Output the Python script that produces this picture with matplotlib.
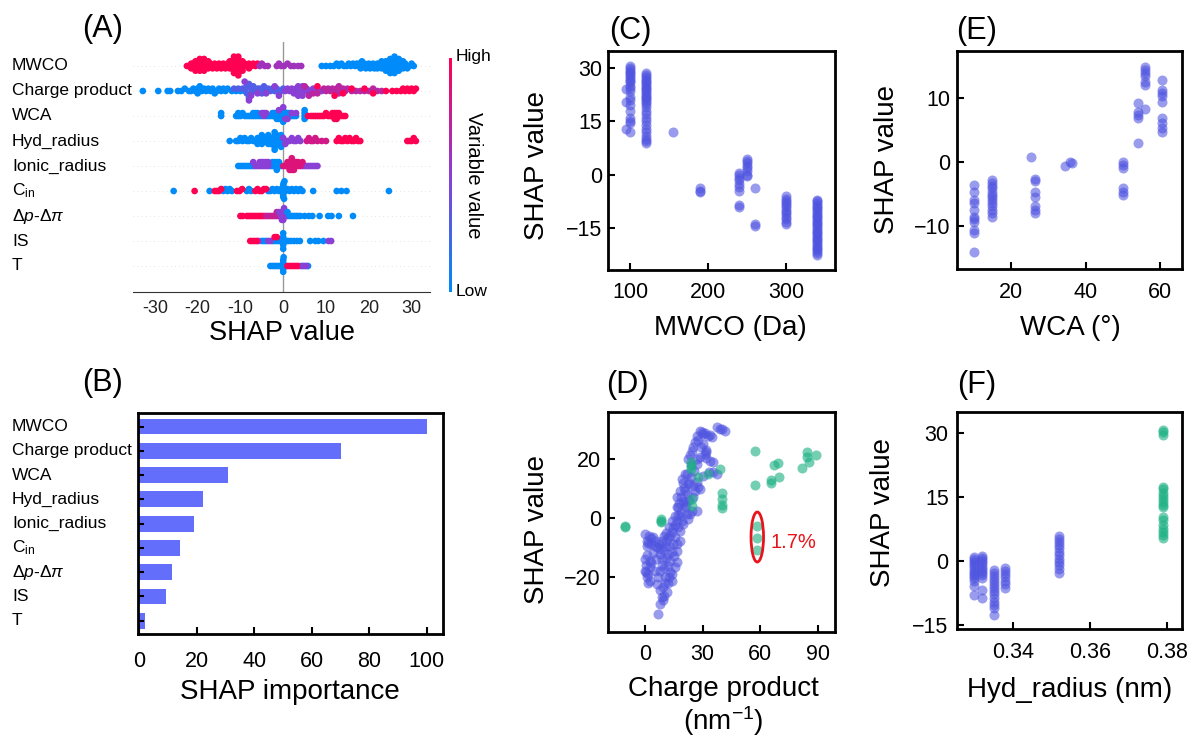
import numpy as np
import matplotlib
matplotlib.use('Agg')
import matplotlib.pyplot as plt
from matplotlib.colors import LinearSegmentedColormap
from matplotlib.patches import Ellipse
from matplotlib.transforms import blended_transform_factory

plt.rcParams['font.family'] = ['Liberation Sans', 'DejaVu Sans']
plt.rcParams['mathtext.fontset'] = 'custom'
plt.rcParams['mathtext.rm'] = 'Liberation Sans'
plt.rcParams['mathtext.it'] = 'Liberation Sans:italic'

W, H = 1193, 737

features = ['MWCO', 'Charge product', 'WCA', 'Hyd_radius', 'Ionic_radius',
            'C$_{\\rm in}$', '\u0394$p$-\u0394$\\pi$', 'IS', 'T']

# (A) beeswarm: SHAP values grouped by feature-value level (0 = low, 1 = high)
mwco = {
    1.0: [-22.5, -22, -21.5, -21.5, -21, -21, -20.5, -20.5, -20.5, -20, -20, -20, -19.5, -19.5, -19.5,
          -19, -19, -19, -18.5, -18.5, -18.5, -18, -18, -17.5, -17.5, -17, -17, -16.5, -16, -16,
          -15.5, -15, -15, -14.5, -14, -14, -13.5, -13, -13, -12.5, -12.5, -12, -12, -12, -12,
          -11.5, -11.5, -11.5, -11.5, -11, -11, -11, -11, -11, -10.5, -10.5, -10.5, -10.5,
          -10, -10, -10, -9.5, -9.5, -9, -9, -8.5, -8, -8, -7.5, -7, -6.5, -6],
    0.6: [-5.5, -5, -4.3, -3.6, -1.5, -1, -0.5, 0.2, 1, 1.8, 2.5, 3.5, 4.2],
    0.0: [9, 10, 11, 11.8, 12.5, 13, 13.6, 14.2, 14.8, 15.3, 15.8, 16.3, 16.8, 17.2, 17.5, 17.8,
          18.1, 18.4, 18.7, 19, 19.3, 19.6, 20, 20.3, 20.6, 21, 21.3, 21.6, 22, 22, 22.5, 22.5,
          23, 23, 23.5, 23.5, 24, 24, 24, 24.5, 24.5, 24.5, 25, 25, 25, 25, 25.5, 25.5, 25.5, 25.5,
          26, 26, 26, 26, 26.5, 26.5, 26.5, 27, 27, 27, 27.5, 27.5, 28, 28, 28.5, 28.5, 29, 29.5,
          30, 30.5],
}
charge = {
    0.0: [-32.8, -29.2, -27, -26.4, -24.6, -23.8, -23, -22, -21.5, -21, -20.5, -20, -20, -19.5,
          -19, -18.5, -18, -17.5, -17, -16.5, -16, -15.5, -15, -14.5, -14, -13.5, -13, -12, -11,
          -10, -9, -7, -5],
    0.3: [-11.5, -10.5, -9.5, -9, -8.5, -8.5, -8, -8, -8, -7.5, -7.5, -7, -6.5, -6, -5.5, -5,
          -4.5, -4, -3.5, -3, -2.5, -2, -1.5, -1, -0.5, 0],
    0.5: [-9, -8, -7.5, -6, -4, -2, -1, 0.5, 1, 1.5, 2, 2.5, 3, 3, 3.5, 3.5, 3.5, 4, 4, 4, 4.5,
          4.5, 5, 5.5, 6, 6.5, 7, 7.5, 8, 9],
    0.7: [5, 6, 7, 8, 9.5, 10, 10.5, 11, 11.5, 12, 12.5, 13, 13, 13.5, 14, 14.5, 15, 16, 17, 18,
          19, 20, 21, 22, 23],
    1.0: [8, 12, 14, 16, 19, 21, 24, 25.5, 26.5, 27.5, 28, 28.5, 29, 29.5, 30, 30.5, 31],
}
wca = {
    0.0: [-14.5, -14.5, -11, -10.5, -10.5, -10, -9.5, -9, -8.5, -8, -7.5, -7, -7, -6.5, -6.5, -6,
          -6, -5.5, -5, -4, -3.5, -3, -2.5, -2.5, -2, -2, -1.5, -1.5, -1.5, -1, -1, -1, -0.5, -0.5,
          0, 0, 0, 0.5, 0.5, 1, 1, 1.5, 1.5, 2, 2.5, 3, 5, 5, 5, 5],
    0.5: [-5, -4.5, -4.5, -4, -1, 0, 0.5, 1, 2, 3],
    1.0: [5.8, 6.5, 7, 7.5, 8, 8.5, 9, 9.5, 10, 10.5, 11, 11.5, 11.5, 12, 12, 12, 12.5, 12.5, 12.5,
          13, 13, 13.5, 14, 14.5],
}
hyd = {
    0.0: [-12.5, -11, -10.5, -10, -9.5, -9, -8.5, -8, -7.5, -7, -6.5, -6, -6, -5.5, -5.5, -5, -5,
          -4.5, -4.5, -4, -4, -3.5, -3.5, -3, -3, -3, -2.5, -2.5, -2.5, -2, -2, -2, -2, -1.5, -1.5,
          -1.5, -1.5, -1, -1, -1, -0.5, -0.5, 0],
    0.5: [0, 0.5, 1, 1.5, 2, 2.5, 3, 3.5, 4],
    0.8: [5.5, 6, 6.5, 7, 7.5, 8, 9, 10],
    1.0: [12.5, 13, 13.5, 14, 14.5, 15, 15.5, 16, 16.5, 17, 17.5, 18, 29, 29.5, 30, 30.5, 31],
}
ionic = {
    0.0: [-10.5, -10, -9.5, -9, -8.5, -8, -7.5, -7, -3, -2.5, -2.5, -2, -2, -1.5, -1.5, -1.5, -1,
          -1, -0.5],
    0.5: [-7, -6.5, -6, -5.5, -5.5, -5, -5, -4.5, -4.5, -4, -4, -3.5, -3.5, 4.5, 5, 5.5, 6, 6.5,
          7, 7.5, 8],
    0.85: [0, 0.5, 1, 1, 1.5, 1.5, 1.5, 2, 2, 2, 2, 2.5, 2.5, 2.5, 3, 3, 3.5, 3.5, 4, 4.5],
}
cin = {
    0.0: [-25.6, -17.2, -14, -13.5, -13, -12.5, -12, -8.5, -8, -7.5, -3.5, -3, -2.5, -2, -1.5, -1,
          -0.5, -0.3, -0.1, 0, 0, 0, 0, 0, 0.1, 0.2, 0.3, 0.5, 1, 1.5, 2, 2.5, 3, 3.5, 4, 4.5, 7,
          12.5, 13.6, 14.8, 24.7],
    1.0: [-20.7, -16, -15.5, -15, -14.5, -10.8, -10.2, -9.6, -6.5, -6, -5.5, -5, -4.5, -4],
}
dp = {
    1.0: [-10, -9.5, -8.5, -8, -7.5, -7, -6.5, -6, -5.5, -5, -4.5],
    0.75: [-4, -3.5, -3, -2.5, -2, -1.5, -1.5, -1],
    0.5: [-1, -0.5, -0.5, -0.3, 0, 0, 0, 0.2, 0.5, 0.5, 1],
    0.0: [1, 1.5, 2, 2.5, 3, 3.5, 4, 5, 6, 6.8, 8.5, 10.5, 11.3, 13, 16.3],
}
ionic_strength = {
    0.0: [-5, -4.5, -4, -2.5, -2, -1.5, -1, -0.5, -0.3, 0, 0, 0, 0, 0.2, 0.4, 0.8, 1.2, 1.8, 2.5,
          3.2, 3.9, 6.3, 7.5, 8.2, 9.4],
    0.5: [-5.8, -3.5, -3, 10.6, 11.2],
    1.0: [-7.7, -7.2, -6.7, -6.2, -1.5, -2],
}
temp = {
    0.0: [-3, -2.5, -2, -1.5, -1, -0.5, -0.3, -0.1, 0, 0, 0, 0, 0, 0.1, 0.3, 0.5, 4.2, 5, 5.8],
    1.0: [1, 1.5, 2, 2.5, 3, 3.5],
    0.5: [4.6, 5.4],
}
rows = [mwco, charge, wca, hyd, ionic, cin, dp, ionic_strength, temp]

# (B) mean |SHAP| importance
importance = [100, 70.1, 30.8, 22.1, 19.1, 14.2, 11.3, 9.2, 2.0]

# (C) dependence on MWCO
c_cols = {
    95: [24, 20.5, 13],
    100: [30.5, 30, 29.5, 29, 28.5, 28, 27.5, 27, 26.5, 26, 25, 24.5, 23.5, 22, 21, 19.5, 18, 16,
          15, 14.5, 12],
    120: [28.5, 28, 27.5, 27, 26.5, 26, 25.5, 25, 24.5, 24, 23.5, 23, 22.5, 22, 21.5, 21, 20.5,
          20, 19, 18, 17, 16, 15, 14, 13, 12, 11, 10, 9.5, 9],
    155: [12],
    190: [-3.8, -4.5, -4.8],
    240: [0.5, 0, -0.8, -1.5, -2.5, -3.5, -4.5, -8.5, -9.2],
    250: [4.4, 3.8, 3.2, 2.5, 1.8, 1, 0, -0.5],
    260: [-3.8, -13.8, -14.5],
    300: [-6, -6.8, -7.5, -8, -8.5, -9, -9.8, -10.5, -11, -11.8, -12.5, -13.2, -13.8],
    340: [-7, -7.5, -8, -8.5, -9, -9.5, -10, -10.5, -11, -11.5, -12, -12.5, -13, -13.5, -14,
          -14.5, -15, -15.5, -16, -16.5, -17, -17.5, -18, -18.5, -19, -19.5, -20, -20.5, -21,
          -21.5, -22, -22.5],
}

# (E) dependence on WCA
e_cols = {
    10: [-3.6, -4.7, -6, -6.5, -7.6, -8.6, -9, -9.4, -10.7, -11.2, -14.1],
    15: [-2.9, -3.3, -3.8, -4.2, -4.7, -5.2, -5.6, -6, -6.5, -7, -7.5, -8, -8.6],
    25.4: [0.7],
    26.5: [-2.7, -3, -4.7, -5.5, -7, -7.6, -8],
    34.5: [-0.7],
    35.8: [0],
    36.5: [-0.2],
    50: [0, -0.5, -1, -4.2, -4.7, -5.2],
    54: [9.1, 7.8, 7.3, 6.8, 2.9],
    56: [14.8, 14.3, 13.8, 13.4, 12.5, 12, 8.3],
    60.5: [12.8, 11.2, 10.8, 10.3, 9.4, 6.8, 6, 5.2, 4.7],
}

# (D) dependence on charge product
d_x = [39, 41.6, 37.7, 40.3, 28.6, 26.9, 30.3, 29.5, 26, 27.5, 31, 33, 35, 34,
       24.3, 25, 31.2, 28.6, 33.8, 31.7, 31.7, 35.2, 26.9, 22.5, 23.5,
       35.5, 37.3, 33.4, 30.3, 19.1, 22.5, 26.9, 24, 25.5, 21, 27.5,
       18.2, 28.6, 16.5, 19.9, 25.1, 22, 20.5, 17.5, 21.5, 23, 24.5,
       16.5, 20.8, 23.4, 18.2, 26.9, 17.3, 15.6, 20.8, 21.7, 19, 22.5,
       19.1, 17.3, 19.9, 13.9, 15.5, 16.5, 18, 14.5, 12.5,
       0, 0.9, 4.3, 8.7, 12.1, 15.6, 2, 6, 10, 11, 3, 1.5,
       6.1, 10.4, 14.7, 18.2, 7.5, 12.5, 16.5,
       7.8, 12.1, 16.5, 9.5, 14, 11, 9,
       16.5, 13, 2.6, 15, 0, 1, 3.4,
       0, 0.9, 2.6, 1.5, 0.5, 7.8, 10.4, 13, 2.6, 15.6, 12, 9,
       6.1, 9.5, 13.9, 11.3, 8, 10.5, 12.5,
       8.7, 7.8, 6.9, 9.5, 10,
       20, 21, 23, 19, 17, 14, 13, 11, 5, 8, 4, 6, 10, 12, 14,
       22, 24, 29, 30, 32, 27, 25, 26, 3, 1, 0.5, 1.5, 5, 7]
d_y = [30.3, 29.5, 31, 30.2, 29.7, 28, 28.6, 29.2, 25.7, 26.5, 29, 28, 27.5, 28.2,
       22.9, 24, 21.8, 20.6, 19.5, 22.5, 20.2, 19, 18.4, 20, 21.5,
       15.5, 15, 15.7, 14.4, 13.3, 11.6, 12.1, 14, 16, 15, 10.5,
       9.3, 9.9, 7, 5.9, 7, 8, 10, 5, 4.5, 6, 2.5,
       3.6, 3.6, 1.4, 0.8, 2.5, 3.6, 0.8, 5.3, 1.4, 2, -0.5,
       -0.9, -3.2, -2, -4.9, -2.5, -1, -4.5, -3.5, -3,
       -5.4, -7.7, -6.6, -7.7, -6.6, -6.6, -6, -8, -6, -5, -9, -8.5,
       -10, -9.4, -8.8, -7.7, -9, -9.5, -9,
       -12.2, -12.2, -11.1, -11, -11.5, -13.5, -14,
       -15.1, -14.5, -14.5, -13, -13.9, -12.5, -15.2,
       -17.9, -20.2, -21.3, -19, -18.5, -17.9, -20.2, -18.5, -16.8, -16.8, -16.5, -16,
       -22.4, -23.6, -21.3, -25.3, -24.5, -22, -20,
       -27, -29.3, -32.7, -28, -26.5,
       12, 9, 12, 7, 1, -1, -6, -8, -9.5, -10.5, -12, -14, -17, -22, -19,
       15, 18, 24, 25, 23, 20, 11, 9, -7, -9.5, -16, -22, -18, -20]
d_green_x = [-10.3, -10.3, 8.6, 8.6, 8.6, 23.8, 23.8, 23.8, 24.3, 24.3, 27.4, 33, 39, 40, 40, 40,
             40, 57.2, 57.2, 58.3, 58.3, 58.3, 65.5, 65.5, 67, 69, 69.5, 81.5, 84.5, 84.5, 85.4, 89]
d_green_y = [-3.2, -2.8, -0.3, -1.5, -1, 18.9, 17.5, 16.7, 6.5, 4.2, 14, 15, 16.7, 8.3, 6.5, 4.5,
             3.3, 22.6, 11.3, -2.6, -7, -11, 11.7, 12.8, 18, 18.5, 14, 16.8, 22.5, 20.8, 19, 21.4]

# (F) dependence on hydrated radius
f_cols = {
    0.330: [0.9, 0.5, 0, -0.5, -1, -1.5, -2, -2.5, -3, -3.5, -4, -4.7, -5.9, -7.9],
    0.332: [1.2, 0.7, 0.2, -0.3, -0.8, -1.3, -1.8, -2.3, -2.8, -3.3, -4, -6.7, -8.7],
    0.335: [-2, -2.7, -3.4, -4.1, -4.8, -5.5, -6.2, -7, -7.8, -8.6, -9.5, -10.3, -11, -12.6],
    0.338: [-1.6, -2.3, -3, -3.8, -4.6, -5.4, -6.3],
    0.352: [5.9, 5.2, 4.5, 3.8, 3, 2.2, 1.4, 0.6, -0.2, -1, -1.8, -2.8],
}
f_green = {0.379: [30.8, 30.2, 29.6, 17.4, 16.8, 16, 15.3, 14.5, 13.8, 13.2, 12.6, 10.3, 9.5, 8.5,
                   7.6, 6.8, 6.2, 5.5]}

PURPLE = '#4f54e0'
GREEN = '#1db084'
DOT = 52
cmap = LinearSegmentedColormap.from_list('shap_rb', ['#008bfb', '#8a3fd6', '#ff0052'])


def box(l, t, r, b):
    return [l / W, 1 - b / H, (r - l) / W, (b - t) / H]


def swarm_offsets(vals, row_height=0.52, nbins=55):
    vals = np.asarray(vals, float)
    quant = np.round(nbins * (vals - vals.min()) / (vals.max() - vals.min() + 1e-8))
    order = np.argsort(quant, kind='stable')
    ys = np.zeros(len(vals))
    layer, last = 0, None
    for i in order:
        if quant[i] != last:
            layer = 0
        ys[i] = np.ceil(layer / 2) * ((layer % 2) * 2 - 1)
        layer += 1
        last = quant[i]
    ys *= 0.9 * (row_height / np.max(ys + 1))
    return ys


def cols_to_xy(cols):
    xs, ys = [], []
    for x, vals in cols.items():
        xs += [x] * len(vals)
        ys += list(vals)
    return xs, ys


def style_box(ax):
    for s in ax.spines.values():
        s.set_linewidth(2)
    ax.tick_params(direction='in', length=5, width=1.5, labelsize=15.5)


fig = plt.figure(figsize=(W / 100, H / 100), dpi=100)

# ---- (A) beeswarm
axA = fig.add_axes(box(133, 42, 430, 292))
for r, groups in enumerate(rows):
    y = 8 - r
    vals = np.concatenate([np.asarray(v, float) for v in groups.values()])
    levels = np.concatenate([[k] * len(v) for k, v in groups.items()])
    off = swarm_offsets(vals)
    axA.axhline(y, color='#cccccc', lw=0.5, dashes=(1, 5), zorder=-1)
    axA.scatter(vals, y + off, c=levels, cmap=cmap, vmin=0, vmax=1, s=23, linewidths=0, zorder=3)
axA.axvline(0, color='#999999', lw=1, zorder=-1)
axA.set_xlim(-35.1, 34.3)
axA.set_ylim(-1.04, 8.96)
for s in ['left', 'top', 'right']:
    axA.spines[s].set_visible(False)
axA.spines['bottom'].set_color('#333333')
axA.set_yticks([])
ticksA = [-30, -20, -10, 0, 10, 20, 30]
axA.set_xticks(ticksA)
axA.set_xticklabels([str(t) for t in ticksA])
axA.tick_params(axis='x', length=0, labelsize=13, pad=6, colors='#222222')
axA.set_xlabel('SHAP value', fontsize=19.5, va='center')
axA.xaxis.set_label_coords(0.502, -0.164)
trA = blended_transform_factory(fig.transFigure, axA.transData)
for r, name in enumerate(features):
    axA.text(12 / W, 8 - r, name, transform=trA, ha='left', va='center', fontsize=12.5)

# colour bar of feature value
axCb = fig.add_axes(box(449, 58, 452, 292))
axCb.imshow(np.linspace(1, 0, 200).reshape(-1, 1), cmap=cmap, aspect='auto')
axCb.axis('off')
fig.text(456 / W, 1 - 57 / H, 'High', ha='left', va='center', fontsize=12.5)
fig.text(456 / W, 1 - 292 / H, 'Low', ha='left', va='center', fontsize=12.5)
fig.text(474 / W, 1 - 175 / H, 'Variable value', ha='center', va='center', rotation=270,
         fontsize=14.5)

# ---- (B) importance bars
axB = fig.add_axes(box(138, 413, 443, 634))
ypos = np.arange(len(features))[::-1]
axB.barh(ypos, importance, height=0.65, color='#636efa')
axB.set_xlim(-0.45, 105.7)
axB.set_ylim(-0.55, 8.56)
style_box(axB)
axB.set_xticks([0, 20, 40, 60, 80, 100])
axB.set_yticks(ypos)
axB.set_yticklabels([])
axB.tick_params(axis='x', pad=12)
axB.tick_params(axis='y', length=4)
axB.set_xlabel('SHAP importance', fontsize=20, va='center')
axB.xaxis.set_label_coords(0.498, -0.262)
trB = blended_transform_factory(fig.transFigure, axB.transData)
for yy, name in zip(ypos, features):
    axB.text(12 / W, yy, name, transform=trB, ha='left', va='center', fontsize=12.5)

# ---- (C) MWCO dependence
axC = fig.add_axes(box(608, 51, 835, 270))
cx, cy = cols_to_xy(c_cols)
axC.scatter(cx, cy, s=DOT, color=PURPLE, alpha=0.58, linewidths=0)
axC.set_xlim(71.8, 362.8)
axC.set_ylim(-26.8, 34.8)
axC.set_xticks([100, 200, 300])
axC.set_yticks([-15, 0, 15, 30])
style_box(axC)
axC.tick_params(axis='x', pad=9)
axC.tick_params(axis='y', pad=4)
axC.set_xlabel('MWCO (Da)', fontsize=20, va='center')
axC.xaxis.set_label_coords(0.537, -0.265)
axC.set_ylabel('SHAP value', fontsize=20, va='center')
axC.yaxis.set_label_coords(-0.313, 0.479)

# ---- (E) WCA dependence
axE = fig.add_axes(box(957, 51, 1182, 269))
ex, ey = cols_to_xy(e_cols)
axE.scatter(ex, ey, s=DOT, color=PURPLE, alpha=0.58, linewidths=0)
axE.set_xlim(5.5, 65.9)
axE.set_ylim(-16.8, 17.3)
axE.set_xticks([20, 40, 60])
axE.set_yticks([-10, 0, 10])
style_box(axE)
axE.tick_params(axis='x', pad=9)
axE.tick_params(axis='y', pad=5)
axE.set_xlabel('WCA (\u00b0)', fontsize=20, va='center')
axE.xaxis.set_label_coords(0.502, -0.271)
axE.set_ylabel('SHAP value', fontsize=20, va='center')
axE.yaxis.set_label_coords(-0.311, 0.5)

# ---- (D) charge product dependence
axD = fig.add_axes(box(608, 412, 835, 632))
axD.scatter(d_x, d_y, s=DOT, color=PURPLE, alpha=0.58, linewidths=0)
axD.scatter(d_green_x, d_green_y, s=DOT, color=GREEN, alpha=0.62, linewidths=0)
axD.add_patch(Ellipse((58.4, -6.5), 6.5, 17, fill=False, edgecolor='#e8141b', lw=2))
axD.text(65.5, -8.3, '1.7%', color='#e8141b', fontsize=14.5, ha='left', va='center')
axD.set_xlim(-19.2, 98.8)
axD.set_ylim(-38.8, 36)
axD.set_xticks([0, 30, 60, 90])
axD.set_yticks([-20, 0, 20])
style_box(axD)
axD.tick_params(axis='x', pad=9)
axD.tick_params(axis='y', pad=5)
axD.set_xlabel('Charge product\n(nm$^{-1}$)', fontsize=20, va='center', linespacing=1.1)
axD.xaxis.set_label_coords(0.507, -0.341)
axD.set_ylabel('SHAP value', fontsize=20, va='center')
axD.yaxis.set_label_coords(-0.313, 0.464)

# ---- (F) hydrated radius dependence
axF = fig.add_axes(box(957, 412, 1182, 629))
fx, fy = cols_to_xy(f_cols)
gx, gy = cols_to_xy(f_green)
axF.scatter(fx, fy, s=DOT, color=PURPLE, alpha=0.58, linewidths=0)
axF.scatter(gx, gy, s=DOT, color=GREEN, alpha=0.62, linewidths=0)
axF.set_xlim(0.3255, 0.3839)
axF.set_ylim(-15.9, 34.9)
axF.set_xticks([0.34, 0.36, 0.38])
axF.set_yticks([-15, 0, 15, 30])
style_box(axF)
axF.tick_params(axis='x', pad=9)
axF.tick_params(axis='y', pad=6)
axF.set_xlabel('Hyd_radius (nm)', fontsize=20, va='center')
axF.xaxis.set_label_coords(0.502, -0.281)
axF.set_ylabel('SHAP value', fontsize=20, va='center')
axF.yaxis.set_label_coords(-0.329, 0.535)

# panel letters
for lab, x, y in [('(A)', 103, 29), ('(B)', 103, 383), ('(C)', 630, 31),
                  ('(E)', 977, 31), ('(D)', 627, 385), ('(F)', 977, 385)]:
    fig.text(x / W, 1 - y / H, lab, ha='center', va='center', fontsize=22)

fig.savefig('out.png', dpi=100)
